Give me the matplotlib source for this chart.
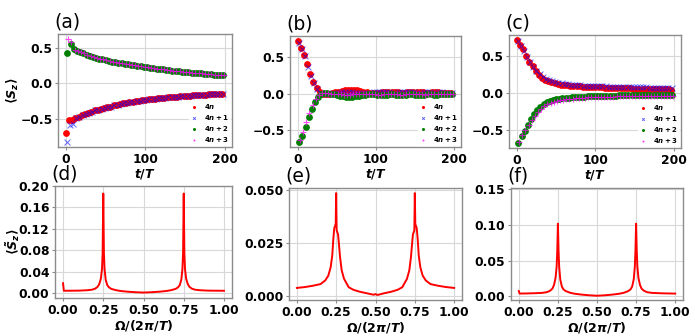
import numpy as np
import matplotlib
matplotlib.use("Agg")
import matplotlib.pyplot as plt

plt.rcParams['font.family'] = ['DejaVu Sans']
plt.rcParams['font.weight'] = 'bold'
plt.rcParams['mathtext.fontset'] = 'custom'
plt.rcParams['mathtext.rm'] = 'DejaVu Sans:bold'
plt.rcParams['mathtext.it'] = 'DejaVu Sans:italic:bold'
plt.rcParams['mathtext.bf'] = 'DejaVu Sans:bold'

# ---------------- data: time series (points every 4 periods per series) -------------
series_labels = [r'$4n$', r'$4n+1$', r'$4n+2$', r'$4n+3$']
series_offsets = [0, 1, 2, 3]

# panel (a)
a_low_tail = [-0.49, -0.47, -0.45, -0.43, -0.41, -0.395, -0.38, -0.37, -0.36, -0.35,
              -0.335, -0.325, -0.31, -0.30, -0.29, -0.28, -0.275, -0.265, -0.258, -0.25,
              -0.243, -0.236, -0.23, -0.225, -0.22, -0.215, -0.21, -0.205, -0.201, -0.197,
              -0.193, -0.189, -0.185, -0.182, -0.179, -0.176, -0.173, -0.17, -0.167, -0.164,
              -0.161, -0.158, -0.155, -0.152, -0.149, -0.146, -0.143]
a_high_tail = [0.46, 0.44, 0.42, 0.40, 0.385, 0.37, 0.355, 0.345, 0.335, 0.325,
               0.315, 0.305, 0.297, 0.29, 0.283, 0.276, 0.268, 0.26, 0.253, 0.246,
               0.239, 0.232, 0.225, 0.219, 0.213, 0.207, 0.201, 0.195, 0.19, 0.185,
               0.18, 0.175, 0.17, 0.165, 0.16, 0.156, 0.152, 0.148, 0.144, 0.14,
               0.136, 0.132, 0.128, 0.124, 0.12, 0.116, 0.112]
a_4n = [-0.70, -0.52, -0.52] + a_low_tail
a_4n1 = [-0.82, -0.58, -0.57] + a_low_tail
a_4n2 = [0.42, 0.55, 0.48] + a_high_tail
a_4n3 = [0.62, 0.58, 0.47] + a_high_tail

# panel (b)
b_4n = [0.72, 0.62, 0.53, 0.40, 0.27, 0.16, 0.08, 0.02, -0.01, -0.01,
        0.0, 0.01, 0.02, 0.03, 0.04, 0.045, 0.05, 0.05, 0.05, 0.045,
        0.04, 0.03, 0.02, 0.015, 0.01, 0.01, 0.015, 0.02, 0.02, 0.025,
        0.025, 0.02, 0.02, 0.015, 0.015, 0.02, 0.02, 0.025, 0.025, 0.02,
        0.02, 0.015, 0.015, 0.02, 0.02, 0.02, 0.015, 0.015, 0.015, 0.015]
b_4n1 = [0.70, 0.61, 0.51, 0.37, 0.24, 0.14, 0.06, 0.01, -0.01, -0.005,
         0.0, 0.005, 0.01, 0.015, 0.02, 0.02, 0.02, 0.02, 0.015, 0.01,
         0.01, 0.01, 0.01, 0.015, 0.02, 0.02, 0.025, 0.025, 0.02, 0.02,
         0.015, 0.015, 0.02, 0.02, 0.025, 0.025, 0.02, 0.02, 0.015, 0.015,
         0.02, 0.02, 0.02, 0.015, 0.015, 0.02, 0.02, 0.015, 0.015, 0.015]
b_4n2 = [-0.66, -0.58, -0.45, -0.32, -0.21, -0.11, -0.04, 0.0, 0.01, 0.01,
         0.0, -0.01, -0.02, -0.03, -0.035, -0.04, -0.04, -0.04, -0.035, -0.03,
         -0.02, -0.015, -0.01, -0.01, -0.01, -0.015, -0.02, -0.02, -0.015, -0.01,
         -0.01, -0.015, -0.02, -0.02, -0.015, -0.01, -0.01, -0.015, -0.015, -0.02,
         -0.015, -0.01, -0.01, -0.015, -0.015, -0.01, -0.01, -0.01, -0.01, -0.01]
b_4n3 = [-0.63, -0.52, -0.39, -0.26, -0.16, -0.07, -0.02, 0.01, 0.01, 0.005,
         0.0, -0.005, -0.01, -0.01, -0.015, -0.015, -0.015, -0.01, -0.01, -0.005,
         0.0, 0.0, -0.005, -0.01, -0.01, -0.015, -0.015, -0.01, -0.01, -0.005,
         -0.005, -0.01, -0.015, -0.015, -0.01, -0.01, -0.005, -0.005, -0.01, -0.01,
         -0.015, -0.01, -0.01, -0.005, -0.005, -0.01, -0.01, -0.01, -0.005, -0.005]

# panel (c)
c_4n = [0.71, 0.64, 0.585, 0.50, 0.42, 0.36, 0.29, 0.24, 0.20, 0.175,
        0.155, 0.14, 0.13, 0.12, 0.11, 0.105, 0.10, 0.095, 0.09, 0.088,
        0.085, 0.083, 0.08, 0.078, 0.076, 0.075, 0.073, 0.072, 0.07, 0.068,
        0.067, 0.065, 0.064, 0.062, 0.061, 0.06, 0.058, 0.057, 0.056, 0.055,
        0.054, 0.052, 0.051, 0.05, 0.049, 0.048, 0.047, 0.046, 0.045, 0.044]
c_4n1 = [0.70, 0.63, 0.56, 0.48, 0.41, 0.35, 0.29, 0.25, 0.215, 0.19,
         0.17, 0.155, 0.145, 0.135, 0.127, 0.12, 0.115, 0.11, 0.106, 0.103,
         0.1, 0.098, 0.096, 0.094, 0.092, 0.09, 0.088, 0.087, 0.085, 0.084,
         0.083, 0.082, 0.081, 0.08, 0.079, 0.078, 0.077, 0.076, 0.075, 0.074,
         0.073, 0.072, 0.071, 0.07, 0.07, 0.069, 0.068, 0.068, 0.067, 0.066]
c_4n2 = [-0.675, -0.585, -0.51, -0.43, -0.36, -0.29, -0.235, -0.19, -0.15, -0.125,
         -0.11, -0.10, -0.09, -0.082, -0.076, -0.07, -0.066, -0.062, -0.058, -0.055,
         -0.052, -0.05, -0.048, -0.046, -0.045, -0.044, -0.042, -0.041, -0.04, -0.039,
         -0.038, -0.037, -0.036, -0.035, -0.035, -0.034, -0.033, -0.033, -0.032, -0.032,
         -0.031, -0.031, -0.03, -0.03, -0.03, -0.029, -0.029, -0.029, -0.028, -0.028]
c_4n3 = [-0.66, -0.57, -0.50, -0.43, -0.37, -0.31, -0.26, -0.215, -0.18, -0.155,
         -0.135, -0.12, -0.11, -0.1, -0.093, -0.087, -0.082, -0.078, -0.074, -0.07,
         -0.067, -0.064, -0.062, -0.06, -0.058, -0.056, -0.055, -0.053, -0.052, -0.051,
         -0.05, -0.049, -0.048, -0.047, -0.046, -0.046, -0.045, -0.045, -0.044, -0.044,
         -0.043, -0.043, -0.042, -0.042, -0.042, -0.041, -0.041, -0.041, -0.04, -0.04]

# ---------------- data: spectra -------------
freq_df = [0.0, 0.005, 0.05, 0.10, 0.15, 0.18, 0.20, 0.215, 0.225, 0.235,
           0.242, 0.246, 0.25, 0.254, 0.258, 0.265, 0.275, 0.285, 0.30, 0.33,
           0.36, 0.40, 0.45, 0.50, 0.55, 0.60, 0.64, 0.67, 0.70, 0.715,
           0.725, 0.735, 0.742, 0.746, 0.75, 0.754, 0.758, 0.765, 0.775, 0.785,
           0.80, 0.82, 0.85, 0.90, 0.95, 1.0]
spec_d = [0.0186, 0.0045, 0.0046, 0.0048, 0.0055, 0.0065, 0.0085, 0.012, 0.017, 0.027,
          0.045, 0.075, 0.186, 0.075, 0.045, 0.025, 0.015, 0.011, 0.008, 0.0055,
          0.004, 0.0028, 0.0018, 0.0012, 0.0018, 0.0028, 0.004, 0.0055, 0.008, 0.011,
          0.015, 0.025, 0.045, 0.075, 0.186, 0.075, 0.045, 0.027, 0.017, 0.012,
          0.0085, 0.0065, 0.0055, 0.0048, 0.0046, 0.0045]
spec_f = [0.0075, 0.004, 0.0042, 0.0045, 0.005, 0.006, 0.008, 0.011, 0.016, 0.026,
          0.042, 0.065, 0.102, 0.065, 0.042, 0.024, 0.014, 0.010, 0.0075, 0.005,
          0.0037, 0.0026, 0.0016, 0.001, 0.0016, 0.0026, 0.0037, 0.005, 0.0075, 0.010,
          0.014, 0.024, 0.042, 0.065, 0.102, 0.065, 0.042, 0.026, 0.016, 0.011,
          0.008, 0.006, 0.005, 0.0045, 0.0042, 0.004]
freq_e = [0.0, 0.05, 0.10, 0.15, 0.18, 0.20, 0.215, 0.225, 0.232, 0.238,
          0.243, 0.247, 0.25, 0.253, 0.257, 0.262, 0.268, 0.275, 0.285, 0.30,
          0.33, 0.36, 0.40, 0.45, 0.48, 0.49, 0.50, 0.51, 0.52, 0.55,
          0.60, 0.64, 0.67, 0.70, 0.715, 0.725, 0.732, 0.738, 0.743, 0.747,
          0.75, 0.753, 0.757, 0.762, 0.768, 0.775, 0.785, 0.80, 0.82, 0.85,
          0.90, 0.95, 1.0]
spec_e = [0.0037, 0.0041, 0.0047, 0.0055, 0.0072, 0.0095, 0.0135, 0.019, 0.027, 0.032,
          0.033, 0.034, 0.0485, 0.031, 0.030, 0.029, 0.024, 0.018, 0.012, 0.008,
          0.004, 0.0028, 0.0019, 0.0011, 0.0006, 0.0005, 0.0008, 0.0004, 0.0005, 0.0011,
          0.0019, 0.0028, 0.004, 0.008, 0.012, 0.018, 0.024, 0.029, 0.030, 0.031,
          0.0485, 0.034, 0.033, 0.032, 0.027, 0.019, 0.0135, 0.0095, 0.0072, 0.0055,
          0.0047, 0.0041, 0.0037]

top_xticks = [0, 100, 200]
bot_xticks = [0.0, 0.25, 0.5, 0.75, 1.0]
yticks_top = [-0.5, 0.0, 0.5]
yticks_d = [0.0, 0.04, 0.08, 0.12, 0.16, 0.20]
yticks_e = [0.0, 0.025, 0.05]
yticks_f = [0.0, 0.05, 0.10, 0.15]
panel_letters = ['(a)', '(b)', '(c)', '(d)', '(e)', '(f)']

# ---------------- figure -------------
W, H = 695, 336
fig = plt.figure(figsize=(W / 100, H / 100), dpi=100)

def px_axes(l, r, t, b):
    return fig.add_axes([l / W, 1 - b / H, (r - l) / W, (b - t) / H])

boxes = [(58, 232, 34, 147), (290, 461, 36, 147), (509, 681, 35, 148),
         (55, 232, 186, 298), (289, 462, 188, 300), (511, 683, 188, 300)]
axes = [px_axes(*bx) for bx in boxes]

SPINE = '#8c8c8c'
GRID = '#d8d8d8'

def style(ax):
    for s in ax.spines.values():
        s.set_color(SPINE)
        s.set_linewidth(1.0)
    ax.grid(True, color=GRID, linewidth=0.8)
    ax.set_axisbelow(True)
    ax.tick_params(length=2, width=0.8, color=SPINE, labelsize=8.8, pad=2)
    for lab in ax.get_xticklabels() + ax.get_yticklabels():
        lab.set_fontweight('bold')

styles = [dict(c='red', marker='o', s=24, lw=0),
          dict(c='blue', marker='x', s=18, lw=0.7, alpha=0.6),
          dict(c='green', marker='o', s=24, lw=0),
          dict(c='magenta', marker='+', s=22, lw=0.8, alpha=0.7)]

top_data = [[a_4n, a_4n1, a_4n2, a_4n3],
            [b_4n, b_4n1, b_4n2, b_4n3],
            [c_4n, c_4n1, c_4n2, c_4n3]]

for ax, group in zip(axes[:3], top_data):
    for vals, off, lab, st in zip(group, series_offsets, series_labels, styles):
        t = np.arange(len(vals)) * 4 + off
        ax.scatter(t, vals, label=lab, **st)
    ax.set_xticks(top_xticks)
    ax.set_yticks(yticks_top)
    ax.set_xlabel(r'$t/T$', fontsize=9, labelpad=1)
    leg = ax.legend(loc='lower right', fontsize=5, markerscale=0.45, frameon=True,
                    framealpha=0.85, edgecolor='white', handletextpad=0.9,
                    labelspacing=0.3, borderpad=0.15, borderaxespad=0.25,
                    handlelength=1.2)
    for txt in leg.get_texts():
        txt.set_fontweight('bold')
    style(ax)

axes[0].set_ylabel(r'$\langle S_z\rangle$', fontsize=9)
axes[0].yaxis.set_label_coords((21 - 58) / 174, 0.5)

spectra = [(freq_df, spec_d, yticks_d, (-0.009, 0.2)),
           (freq_e, spec_e, yticks_e, None),
           (freq_df, spec_f, yticks_f, (-0.005, 0.152))]
for ax, (fq, sp, yt, yl) in zip(axes[3:], spectra):
    ax.plot(fq, sp, color='red', lw=1.4)
    ax.set_xticks(bot_xticks)
    ax.set_yticks(yt)
    if yl is not None:
        ax.set_ylim(*yl)
    ax.set_xlabel(r'$\Omega/(2\pi/T)$', fontsize=9, labelpad=1)
    style(ax)

axes[3].set_ylabel(r'$\langle \tilde{S}_z\rangle$', fontsize=9)
axes[3].yaxis.set_label_coords((22 - 55) / 177, 0.5)

for ax, letter in zip(axes, panel_letters):
    ax.text(-0.02, 1.02, letter, transform=ax.transAxes, fontsize=13.5,
            fontweight='normal', ha='left', va='bottom')

fig.savefig('out.png', dpi=100)
